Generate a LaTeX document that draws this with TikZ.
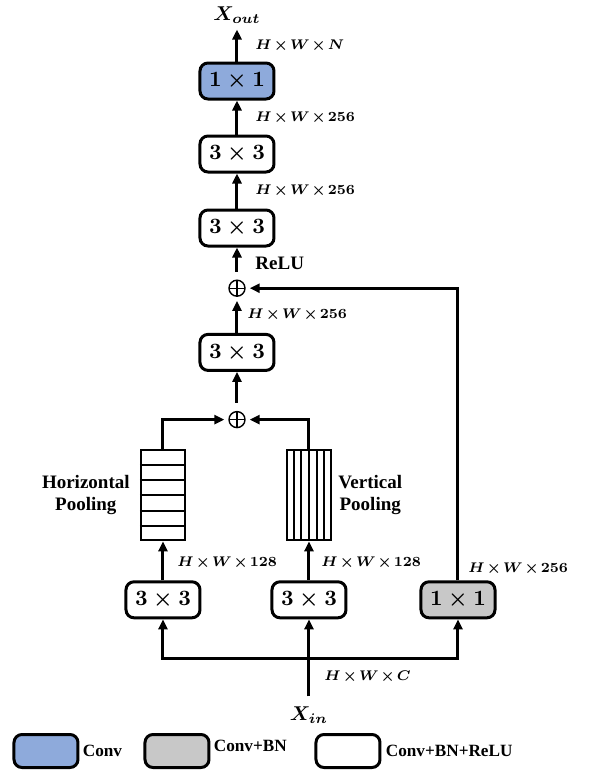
\documentclass[tikz,border=0pt]{standalone}
\usepackage{fontspec}
\setmainfont{Liberation Serif}
\usepackage{amsmath}
\usetikzlibrary{arrows.meta, positioning, calc}
\definecolor{convblue}{RGB}{142,170,219}
\definecolor{bngray}{RGB}{200,200,200}
\newcommand{\hwdim}[1]{$\medmuskip=2mu H\times W\times #1$}

\begin{document}
\begin{tikzpicture}[
  node distance=17pt,
  every node/.style={font=\fontsize{9.5}{11}\selectfont\bfseries},
  layer/.style={rectangle, rounded corners=4pt, draw=black, line width=1.5pt, minimum width=37pt, minimum height=18pt, inner sep=0pt, fill=white, font=\fontsize{11}{13}\selectfont\boldmath},
  conv/.style={layer, fill=convblue},
  convbn/.style={layer, fill=bngray},
  pool/.style={rectangle, draw=black, line width=1pt, minimum width=22pt, minimum height=45pt, inner sep=0pt},
  add/.style={circle, draw=black, line width=0.7pt, minimum size=8pt, inner sep=0pt,
    path picture={\draw[line width=0.7pt] (path picture bounding box.north) -- (path picture bounding box.south)
      (path picture bounding box.west) -- (path picture bounding box.east);}},
  dim/.style={anchor=west, inner sep=0pt, xshift=7pt, font=\fontsize{7.2}{9}\selectfont\boldmath},
  io/.style={inner sep=0pt, font=\normalsize\boldmath},
  legbox/.style={layer, minimum width=32pt, minimum height=16.5pt},
  legtext/.style={inner sep=0pt, anchor=west, font=\fontsize{8.6}{10}\selectfont\bfseries},
  line/.style={-{Triangle[length=5pt, width=4.5pt]}, line width=1.5pt}
]
\useasboundingbox (-118.5pt,40.5pt) rectangle (181.5pt,-345.5pt);

% main column
\node[conv] (out) at (0,0) {$1\times1$};
\node[layer, below=of out] (c3a) {$3\times3$};
\node[layer, below=17.5pt of c3a] (c3b) {$3\times3$};
\node[add, below=16pt of c3b] (sum2) {};
\node[layer, below=18pt of sum2] (c3c) {$3\times3$};
\node[add, below=19.5pt of c3c] (sum1) {};
\coordinate[above=16pt of out] (sink);
\node[io, anchor=south, above=3pt of sink] (xout) {$X_{out}$};

% pooling branches
\node[pool, below=10.5pt of sum1, xshift=-37pt] (hpool) {};
\node[pool, below=10.5pt of sum1, xshift=36pt] (vpool) {};
\foreach \i in {1,...,5} {
  \draw[line width=1pt] ($(hpool.north west)!\i/6!(hpool.south west)$) -- ($(hpool.north east)!\i/6!(hpool.south east)$);
  \draw[line width=1pt] ($(vpool.north west)!\i/6!(vpool.north east)$) -- ($(vpool.south west)!\i/6!(vpool.south east)$);
}
\node[inner sep=0pt, align=center, left=5pt of hpool] (hlabel) {Horizontal\\Pooling};
\node[inner sep=0pt, align=center, right=3pt of vpool] (vlabel) {Vertical\\Pooling};

% input layers
\node[layer, below=19.5pt of hpool] (b1) {$3\times3$};
\node[layer, below=19.5pt of vpool] (b2) {$3\times3$};
\node[convbn, right=36pt of b2] (b3) {$1\times1$};
\coordinate[below=19.5pt of b2] (bus);
\coordinate[below=38.5pt of b2] (src);
\node[io, anchor=north, below=5pt of src] (xin) {$X_{in}$};

% connectors
\draw[line] (src) -- node[dim, pos=0.25] {\hwdim{C}} (b2);
\draw[line] (bus) -| (b1);
\draw[line] (bus) -| (b3);
\draw[line] (b1) -- node[dim, xshift=-0.5pt, pos=0.45] {\hwdim{128}} (hpool);
\draw[line] (b2) -- node[dim, xshift=-1.5pt, pos=0.45] {\hwdim{128}} (vpool);
\draw[line, shorten >=2pt] (hpool) |- (sum1);
\draw[line, shorten >=2pt] (vpool) |- (sum1);
\draw[line, shorten <=4pt] (sum1) -- (c3c);
\draw[line, shorten >=2pt] (c3c) -- node[dim, xshift=-2.5pt] {\hwdim{256}} (sum2);
\draw[line, shorten >=2pt] (b3) |- node[dim, xshift=-2.5pt, pos=0.02] {\hwdim{256}} (sum2);
\draw[line, shorten <=4pt] (sum2) -- node[anchor=west, inner sep=0pt, xshift=8.5pt] {ReLU} (c3b);
\draw[line] (c3b) -- node[dim, xshift=1.5pt] {\hwdim{256}} (c3a);
\draw[line] (c3a) -- node[dim, xshift=1.5pt] {\hwdim{256}} (out);
\draw[line] (out) -- node[dim, xshift=1.5pt] {\hwdim{N}} (sink);

% legend
\node[legbox, fill=convblue] (leg1) at (-95.5pt,-335pt) {};
\node[legtext, right=1.5pt of leg1] (legconv) {Conv};
\node[legbox, fill=bngray, right=32pt of leg1] (leg2) {};
\node[legtext, right=1.5pt of leg2, yshift=2.5pt] (legbn) {Conv+BN};
\node[legbox, right=52pt of leg2] (leg3) {};
\node[legtext, right=2pt of leg3] (legrelu) {Conv+BN+ReLU};
\end{tikzpicture}
\end{document}
